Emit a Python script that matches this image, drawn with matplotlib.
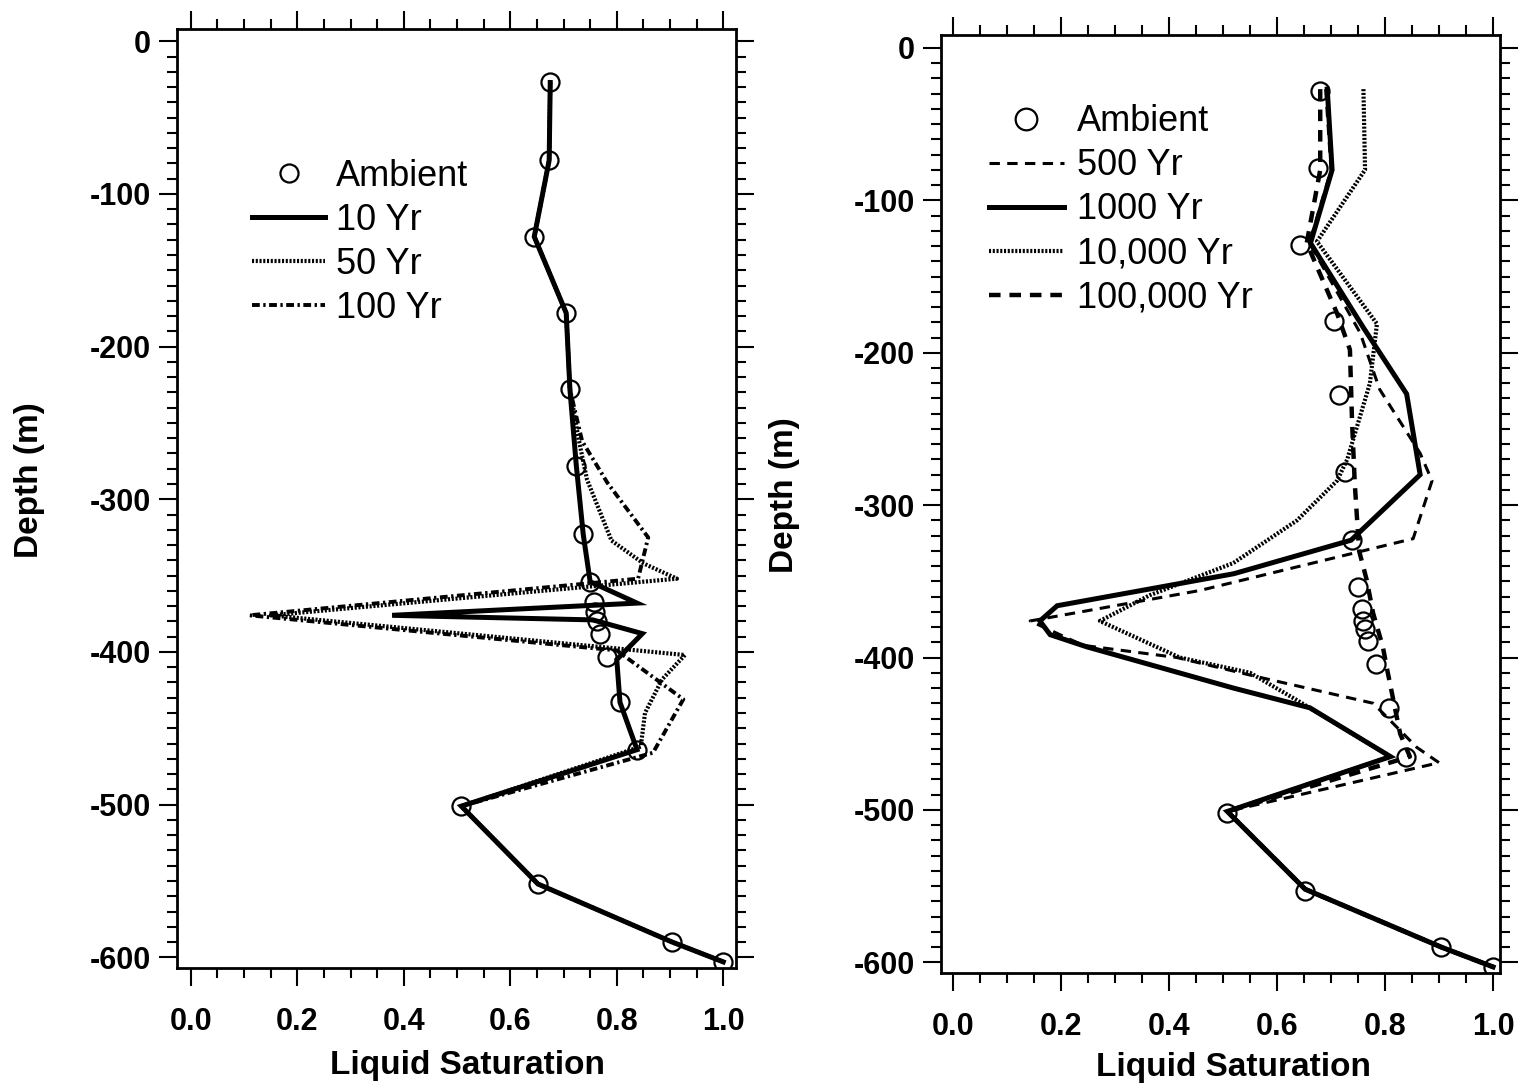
import numpy as np
import matplotlib
matplotlib.use("Agg")
import matplotlib.pyplot as plt
from matplotlib.ticker import MultipleLocator, FormatStrFormatter

plt.rcParams['font.family'] = ['Liberation Sans', 'DejaVu Sans']
plt.rcParams['axes.unicode_minus'] = False

# ── left panel: early times ──────────────────────────────────────────────────
amb_s = [0.675, 0.673, 0.645, 0.705, 0.712, 0.724, 0.737, 0.750, 0.757, 0.760,
         0.763, 0.769, 0.782, 0.806, 0.838, 0.508, 0.652, 0.904, 1.000]
amb_z = [-27, -78, -128, -178, -228, -278, -323, -354, -367, -374,
         -380, -388, -403, -433, -464, -501, -552, -590, -603]

s_10 = [0.675, 0.673, 0.645, 0.705, 0.712, 0.724, 0.737, 0.750, 0.838, 0.378,
        0.755, 0.848, 0.800, 0.806, 0.838, 0.508, 0.652, 0.904, 1.000]
z_10 = [-27, -78, -128, -178, -228, -278, -323, -354, -368, -376,
        -379, -388, -405, -433, -464, -501, -552, -590, -603]

s_50 = [0.675, 0.673, 0.645, 0.705, 0.712, 0.728, 0.744, 0.790, 0.850, 0.913,
        0.150, 0.928, 0.885, 0.853, 0.845, 0.508, 0.652, 0.904, 1.000]
z_50 = [-27, -78, -128, -178, -228, -260, -287, -327, -342, -352,
        -376, -402, -418, -440, -462, -501, -552, -590, -603]

s_100 = [0.675, 0.673, 0.645, 0.705, 0.712, 0.735, 0.782, 0.859, 0.840, 0.110,
         0.800, 0.925, 0.868, 0.508, 0.652, 0.904, 1.000]
z_100 = [-27, -78, -128, -178, -228, -262, -289, -325, -352, -376,
         -399, -431, -466, -501, -552, -590, -603]

# ── right panel: late times ──────────────────────────────────────────────────
amb2_s = [0.680, 0.676, 0.643, 0.706, 0.715, 0.726, 0.739, 0.750, 0.757, 0.759,
          0.763, 0.769, 0.783, 0.807, 0.839, 0.507, 0.652, 0.904, 1.000]
amb2_z = [-28, -79, -129, -179, -228, -278, -323, -354, -368, -376,
          -381, -389, -404, -433, -465, -502, -553, -590, -603]

s_500 = [0.690, 0.700, 0.660, 0.754, 0.790, 0.865, 0.887, 0.852, 0.457, 0.143,
         0.241, 0.415, 0.556, 0.778, 0.859, 0.900, 0.508, 0.652, 0.904, 1.000]
z_500 = [-27, -80, -128, -187, -224, -266, -284, -322, -356, -376,
         -392, -400, -412, -430, -459, -469, -501, -552, -590, -603]

s_1k = [0.693, 0.702, 0.662, 0.759, 0.840, 0.865, 0.737, 0.520, 0.193, 0.161,
        0.180, 0.248, 0.519, 0.661, 0.810, 0.508, 0.652, 0.904, 1.000]
z_1k = [-27, -80, -128, -183, -227, -280, -323, -345, -366, -376,
        -385, -393, -420, -433, -465, -501, -552, -590, -603]

s_10k = [0.760, 0.763, 0.674, 0.785, 0.772, 0.730, 0.711, 0.637, 0.519, 0.365,
         0.272, 0.420, 0.550, 0.637, 0.810, 0.508, 0.652, 0.904, 1.000]
z_10k = [-27, -80, -127, -181, -220, -270, -284, -310, -338, -359,
         -376, -400, -410, -428, -465, -501, -552, -590, -603]

s_100k = [0.680, 0.680, 0.655, 0.711, 0.735, 0.739, 0.744, 0.752, 0.766, 0.778,
          0.796, 0.804, 0.828, 0.846, 0.508, 0.652, 0.904, 1.000]
z_100k = [-27, -80, -128, -174, -198, -246, -286, -330, -349, -371,
          -393, -408, -450, -465, -501, -552, -590, -603]

x_ticks = [0.0, 0.2, 0.4, 0.6, 0.8, 1.0]
y_ticks = [0, -100, -200, -300, -400, -500, -600]

# ── line styles ──────────────────────────────────────────────────────────────
AMB = dict(ls='none', marker='o', ms=13, mfc='none', mec='k', mew=1.6)
SOLID = dict(color='k', lw=3.6, solid_joinstyle='miter')
FINE_DOT = dict(color='k', lw=3.0, dashes=(0.5, 0.4))
DASH_DOT = dict(color='k', lw=2.8, dashes=(2.0, 0.9, 0.6, 0.9))
THIN_DASH = dict(color='k', lw=2.2, dashes=(3.4, 2.4))
BOLD_DASH = dict(color='k', lw=3.2, dashes=(2.6, 2.0))


def style_axes(ax, xlim, ylim, xlab_pos, ylab_pos):
    ax.set_xlim(*xlim)
    ax.set_ylim(*ylim)
    ax.set_xticks(x_ticks)
    ax.set_yticks(y_ticks)
    ax.xaxis.set_minor_locator(MultipleLocator(0.05))
    ax.yaxis.set_minor_locator(MultipleLocator(10))
    ax.xaxis.set_major_formatter(FormatStrFormatter('%.1f'))
    ax.yaxis.set_major_formatter(FormatStrFormatter('%d'))
    ax.tick_params(which='both', direction='out', top=True, right=True,
                   width=1.5, colors='k')
    ax.tick_params(which='major', length=13, labelsize=22)
    ax.tick_params(axis='x', which='major', pad=15)
    ax.tick_params(axis='y', which='major', pad=6)
    ax.tick_params(which='minor', length=7)
    for lab in ax.get_xticklabels() + ax.get_yticklabels():
        lab.set_fontweight('bold')
    for sp in ax.spines.values():
        sp.set_linewidth(2.0)
    ax.set_xlabel("Liquid Saturation", fontsize=24, fontweight='bold')
    ax.set_ylabel("Depth (m)", fontsize=24, fontweight='bold')
    ax.xaxis.set_label_coords(*xlab_pos)
    ax.yaxis.set_label_coords(*ylab_pos)


fig = plt.figure(figsize=(15.22, 10.88), dpi=100)

# ── left panel ───────────────────────────────────────────────────────────────
ax1 = fig.add_axes([0.1163, 0.1103, 0.3673, 0.8630])
ax1.plot(s_100, z_100, label="100 Yr", **DASH_DOT)
ax1.plot(s_50, z_50, label="50 Yr", **FINE_DOT)
ax1.plot(s_10, z_10, label="10 Yr", **SOLID)
ax1.plot(amb_s, amb_z, label="Ambient", **AMB)
style_axes(ax1, (-0.026, 1.024), (-607, 8), (0.52, -0.087), (-0.236, 0.52))

h, l = ax1.get_legend_handles_labels()
order = [3, 2, 1, 0]
ax1.legend([h[i] for i in order], [l[i] for i in order],
           loc='upper left', bbox_to_anchor=(0.135, 0.862), frameon=False,
           fontsize=26, handlelength=2.0, handletextpad=0.3,
           labelspacing=0.25, borderpad=0, borderaxespad=0)

# ── right panel ──────────────────────────────────────────────────────────────
ax2 = fig.add_axes([0.6183, 0.1057, 0.3673, 0.8621])
ax2.plot(s_100k, z_100k, label="100,000 Yr", **BOLD_DASH)
ax2.plot(s_10k, z_10k, label="10,000 Yr", **FINE_DOT)
ax2.plot(s_500, z_500, label="500 Yr", **THIN_DASH)
ax2.plot(s_1k, z_1k, label="1000 Yr", **SOLID)
ax2.plot(amb2_s, amb2_z, label="Ambient", **AMB)
style_axes(ax2, (-0.022, 1.013), (-607, 8.5), (0.524, -0.084), (-0.252, 0.51))

h, l = ax2.get_legend_handles_labels()
order = [4, 2, 3, 1, 0]
ax2.legend([h[i] for i in order], [l[i] for i in order],
           loc='upper left', bbox_to_anchor=(0.085, 0.926), frameon=False,
           fontsize=26, handlelength=2.1, handletextpad=0.35,
           labelspacing=0.25, borderpad=0, borderaxespad=0, markerscale=1.2)

fig.savefig("out.png", dpi=100)
